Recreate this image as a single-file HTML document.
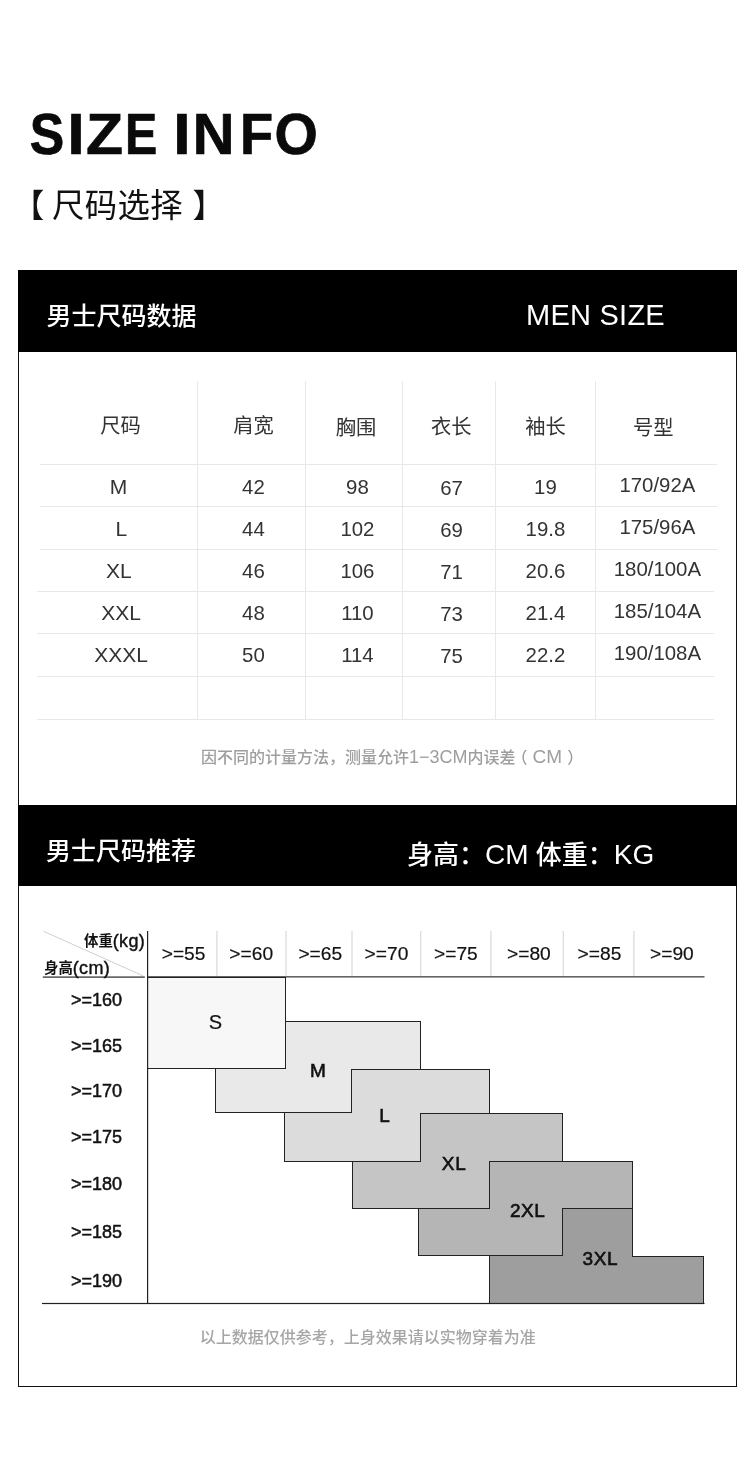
<!DOCTYPE html>
<html lang="zh-CN">
<head>
<meta charset="utf-8">
<title>SIZE INFO</title>
<style>
*{margin:0;padding:0;box-sizing:border-box}
html,body{width:750px;height:1476px;background:#fff;overflow:hidden}
body{position:relative;font-family:"Liberation Sans", "Noto Sans CJK SC", sans-serif;color:#333}
.abs{position:absolute}
.c{position:absolute;transform:translate(-50%,-50%);white-space:nowrap;line-height:1}
.l{position:absolute;transform:translate(0,-50%);white-space:nowrap;line-height:1}
.title{font-family:"Liberation Sans", "Noto Sans CJK SC", sans-serif;font-weight:700;font-size:57px;color:#0a0a0a;-webkit-text-stroke:0.7px #0a0a0a}
.title span{position:absolute;top:0;display:block}
.sub{font-family:"Liberation Sans", "Noto Sans CJK SC", sans-serif;font-weight:400;font-size:32.4px;color:#111}
.sub span{display:inline-block}
.frame{left:18px;top:270px;width:719px;height:1117px;border:1px solid #111;}
.bar{left:18px;width:719px;height:82px;background:#000}
.barcn{font-family:"Liberation Sans", "Noto Sans CJK SC", sans-serif;font-weight:500;font-size:25px;color:#fff}
.baren{font-family:"Liberation Sans", "Noto Sans CJK SC", sans-serif;font-size:29px;color:#fff;letter-spacing:0.25px}
.bar2r{font-family:"Liberation Sans", "Noto Sans CJK SC", sans-serif;font-weight:500;font-size:26px;color:#fff}
.bar2r b{font-family:"Liberation Sans", "Noto Sans CJK SC", sans-serif;font-weight:400;font-size:28px}
.hl{position:absolute;height:1px;background:#e8e8e8}
.vl{position:absolute;width:1px;background:#e8e8e8}

.th{font-family:"Liberation Sans", "Noto Sans CJK SC", sans-serif;font-size:20.3px;color:#333;font-weight:400}
.td{font-family:"Liberation Sans", "Noto Sans CJK SC", sans-serif;font-size:20.4px;color:#333}
.cap{font-family:"Liberation Sans", "Noto Sans CJK SC", sans-serif;font-size:16px;color:#9e9e9e;font-weight:500}
.cap2{color:#a6a6a6}
.wh{font-family:"Liberation Sans", "Noto Sans CJK SC", sans-serif;font-size:19.2px;color:#111;-webkit-text-stroke:0.2px #111}
.hh{font-family:"Liberation Sans", "Noto Sans CJK SC", sans-serif;font-size:18px;color:#111;font-weight:400;-webkit-text-stroke:0.5px #111}
.ax{font-family:"Liberation Sans", "Noto Sans CJK SC", sans-serif;font-size:18px;color:#111;font-weight:400;-webkit-text-stroke:0.4px #111;letter-spacing:0.3px}
.ax i{font-style:normal;font-family:"Liberation Sans", "Noto Sans CJK SC", sans-serif;font-weight:700;font-size:14.4px;-webkit-text-stroke:0;position:relative;top:-1px;letter-spacing:0}
.sz{font-family:"Liberation Sans", "Noto Sans CJK SC", sans-serif;font-size:19px;color:#111;font-weight:400;-webkit-text-stroke:0.6px #111;letter-spacing:0.6px;text-indent:0.6px}
</style>
</head>
<body>
<h1 class="abs title" aria-label="SIZE INFO" style="left:0;top:105.6px;width:400px;height:57px;line-height:1;white-space:pre"><span style="left:28.18px;transform-origin:18.72px 50%;transform:scaleX(0.907)">S</span><span style="left:68.08px;transform-origin:7.92px 50%;transform:scaleX(1.078)">I</span><span style="left:87.46px;transform-origin:17.44px 50%;transform:scaleX(1.063)">Z</span><span style="left:121.55px;transform-origin:19.80px 50%;transform:scaleX(0.848)">E</span><span style="left:160px"> </span><span style="left:174.23px;transform-origin:7.92px 50%;transform:scaleX(1.089)">I</span><span style="left:193.08px;transform-origin:20.57px 50%;transform:scaleX(1.014)">N</span><span style="left:238.63px;transform-origin:18.27px 50%;transform:scaleX(0.952)">F</span><span style="left:273.86px;transform-origin:22.14px 50%;transform:scaleX(0.978)">O</span></h1>
<h2 class="l sub" style="left:12px;top:206px"><span>【</span><span style="margin:0 9.5px 0 7.5px;letter-spacing:0.4px">尺码选择</span><span>】</span></h2>
<div class="abs frame"></div>
<div class="abs bar" style="top:270px"></div>
<div class="l barcn" style="left:46.5px;top:315.7px">男士尺码数据</div>
<div class="l baren" style="left:526px;top:314.5px">MEN SIZE</div>
<div class="hl" style="left:40px;top:464px;width:677px"></div>
<div class="hl" style="left:40px;top:506px;width:677px"></div>
<div class="hl" style="left:40px;top:549px;width:677px"></div>
<div class="hl" style="left:37px;top:591px;width:677px"></div>
<div class="hl" style="left:37px;top:633px;width:677px"></div>
<div class="hl" style="left:37px;top:676px;width:677px"></div>
<div class="hl" style="left:37px;top:719px;width:677px"></div>
<div class="vl" style="left:197px;top:381px;height:339px"></div>
<div class="vl" style="left:305px;top:381px;height:339px"></div>
<div class="vl" style="left:402px;top:381px;height:339px"></div>
<div class="vl" style="left:495px;top:381px;height:339px"></div>
<div class="vl" style="left:595px;top:381px;height:339px"></div>
<div class="c th" style="left:120.5px;top:426.3px">尺码</div>
<div class="c th" style="left:253.5px;top:426.2px">肩宽</div>
<div class="c th" style="left:356px;top:428.0px">胸围</div>
<div class="c th" style="left:451.3px;top:426.8px">衣长</div>
<div class="c th" style="left:545.5px;top:427.4px">袖长</div>
<div class="c th" style="left:653.3px;top:428.2px">号型</div>
<div class="c td" style="left:118.4px;top:486.4px;font-size:21px">M</div>
<div class="c td" style="left:253.4px;top:487px">42</div>
<div class="c td" style="left:357.4px;top:487px">98</div>
<div class="c td" style="left:451.6px;top:488px">67</div>
<div class="c td" style="left:545.4px;top:487px">19</div>
<div class="c td" style="left:657.4px;top:484.5px">170/92A</div>
<div class="c td" style="left:121.3px;top:528.4px;font-size:21px">L</div>
<div class="c td" style="left:253.4px;top:529px">44</div>
<div class="c td" style="left:357.4px;top:529px">102</div>
<div class="c td" style="left:451.6px;top:530px">69</div>
<div class="c td" style="left:545.4px;top:529px">19.8</div>
<div class="c td" style="left:657.4px;top:526.5px">175/96A</div>
<div class="c td" style="left:118.8px;top:570.4px;font-size:21px">XL</div>
<div class="c td" style="left:253.4px;top:571px">46</div>
<div class="c td" style="left:357.4px;top:571px">106</div>
<div class="c td" style="left:451.6px;top:572px">71</div>
<div class="c td" style="left:545.4px;top:571px">20.6</div>
<div class="c td" style="left:657.4px;top:568.5px">180/100A</div>
<div class="c td" style="left:121.2px;top:612.4px;font-size:21px">XXL</div>
<div class="c td" style="left:253.4px;top:613px">48</div>
<div class="c td" style="left:357.4px;top:613px">110</div>
<div class="c td" style="left:451.6px;top:614px">73</div>
<div class="c td" style="left:545.4px;top:613px">21.4</div>
<div class="c td" style="left:657.4px;top:610.5px">185/104A</div>
<div class="c td" style="left:121.2px;top:654.4px;font-size:21px">XXXL</div>
<div class="c td" style="left:253.4px;top:655px">50</div>
<div class="c td" style="left:357.4px;top:655px">114</div>
<div class="c td" style="left:451.6px;top:656px">75</div>
<div class="c td" style="left:545.4px;top:655px">22.2</div>
<div class="c td" style="left:657.4px;top:652.5px">190/108A</div>
<div class="l cap" style="left:201px;top:755.8px">因不同的计量方法，测量允许<span style="font-size:18px">1−3CM</span>内误差<span style="margin-left:-4px">（</span><span style="font-size:19px;margin:0 5px 0 5px">CM</span>）</div>
<div class="abs bar" style="top:805px;height:81px"></div>
<div class="l barcn" style="left:46px;top:850.7px">男士尺码推荐</div>
<div class="l bar2r" style="left:407px;top:855px">身高：<b>CM</b> 体重：<b>KG</b></div>
<svg class="abs" style="left:0;top:900px" width="750" height="420" viewBox="0 900 750 420" shape-rendering="crispEdges">
<rect x="216.2" y="931" width="1.4" height="46" fill="#dedede" shape-rendering="auto"/>
<rect x="285.3" y="931" width="1.4" height="46" fill="#dedede" shape-rendering="auto"/>
<rect x="351.3" y="931" width="1.4" height="46" fill="#dedede" shape-rendering="auto"/>
<rect x="420" y="931" width="1.4" height="46" fill="#dedede" shape-rendering="auto"/>
<rect x="490.2" y="931" width="1.4" height="46" fill="#dedede" shape-rendering="auto"/>
<rect x="562.6" y="931" width="1.4" height="46" fill="#dedede" shape-rendering="auto"/>
<rect x="633.2" y="931" width="1.4" height="46" fill="#dedede" shape-rendering="auto"/>
<line x1="43.5" y1="931.3" x2="143" y2="975.8" stroke="#d0d0d0" stroke-width="1" shape-rendering="auto"/>
<rect x="148" y="976" width="556.5" height="1.6" fill="#666" shape-rendering="auto"/>
<rect x="42.8" y="976.4" width="102" height="1.4" fill="#444" shape-rendering="auto"/>
<polygon points="147.5,977.5 285.5,977.5 285.5,1068.5 147.5,1068.5" fill="#f7f7f7" stroke="#222" stroke-width="1"/>
<polygon points="285.5,1021.5 420.5,1021.5 420.5,1112.5 215.5,1112.5 215.5,1068.5 285.5,1068.5" fill="#e9e9e9" stroke="#222" stroke-width="1"/>
<polygon points="351.5,1069.5 489.5,1069.5 489.5,1161.5 284.5,1161.5 284.5,1112.5 351.5,1112.5" fill="#dcdcdc" stroke="#222" stroke-width="1"/>
<polygon points="420.5,1113.5 562.5,1113.5 562.5,1208.5 352.5,1208.5 352.5,1161.5 420.5,1161.5" fill="#c5c5c5" stroke="#222" stroke-width="1"/>
<polygon points="489.5,1161.5 632.5,1161.5 632.5,1255.5 418.5,1255.5 418.5,1208.5 489.5,1208.5" fill="#b5b5b5" stroke="#222" stroke-width="1"/>
<polygon points="562.5,1208.5 632.5,1208.5 632.5,1256.5 703.5,1256.5 703.5,1303.5 489.5,1303.5 489.5,1255.5 562.5,1255.5" fill="#9e9e9e" stroke="#222" stroke-width="1"/>
<rect x="147" y="931" width="1.2" height="372.5" fill="#222" shape-rendering="auto"/>
<rect x="42" y="1302.9" width="662.5" height="1.2" fill="#222" shape-rendering="auto"/>
</svg>
<div class="l ax" style="left:84px;top:941px"><i>体重</i>(kg)</div>
<div class="l ax" style="left:44px;top:968.3px"><i>身高</i>(cm)</div>
<div class="c wh" style="left:183.6px;top:954px">&gt;=55</div>
<div class="c wh" style="left:251.2px;top:954px">&gt;=60</div>
<div class="c wh" style="left:320.3px;top:954px">&gt;=65</div>
<div class="c wh" style="left:386.5px;top:954px">&gt;=70</div>
<div class="c wh" style="left:455.9px;top:954px">&gt;=75</div>
<div class="c wh" style="left:528.9px;top:954px">&gt;=80</div>
<div class="c wh" style="left:599.5px;top:954px">&gt;=85</div>
<div class="c wh" style="left:671.9px;top:954px">&gt;=90</div>
<div class="c hh" style="left:96.5px;top:1000.3px">&gt;=160</div>
<div class="c hh" style="left:96.5px;top:1045.8px">&gt;=165</div>
<div class="c hh" style="left:96.5px;top:1091.3px">&gt;=170</div>
<div class="c hh" style="left:96.5px;top:1136.6px">&gt;=175</div>
<div class="c hh" style="left:96.5px;top:1184px">&gt;=180</div>
<div class="c hh" style="left:96.5px;top:1232.3px">&gt;=185</div>
<div class="c hh" style="left:96.5px;top:1280.9px">&gt;=190</div>
<div class="c sz" style="left:215.4px;top:1022px;font-weight:400;font-size:20px;-webkit-text-stroke:0.2px #111">S</div>
<div class="c sz" style="left:318px;top:1070px;">M</div>
<div class="c sz" style="left:384.5px;top:1115px;">L</div>
<div class="c sz" style="left:453.8px;top:1162.8px;">XL</div>
<div class="c sz" style="left:527.4px;top:1210px;">2XL</div>
<div class="c sz" style="left:600px;top:1257.5px;">3XL</div>
<div class="c cap cap2" style="left:367.7px;top:1338px">以上数据仅供参考，上身效果请以实物穿着为准</div>
</body>
</html>
